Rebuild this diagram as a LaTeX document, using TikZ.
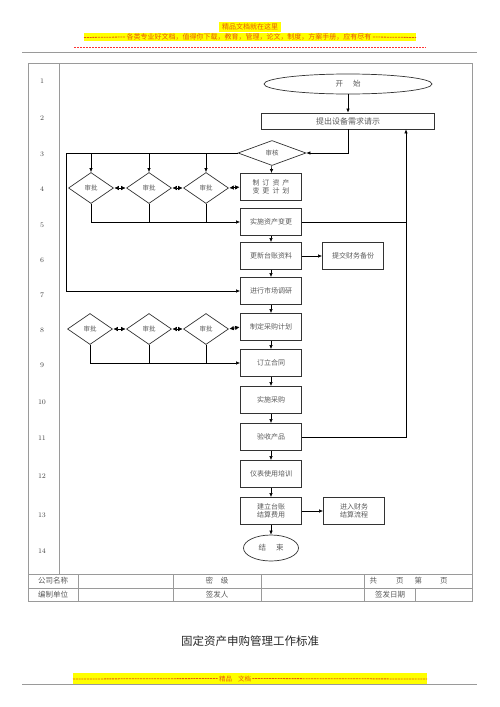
\documentclass[tikz,border=0pt]{standalone}
\usepackage{fontspec}
\usetikzlibrary{shapes.geometric,arrows.meta}
\newfontfamily\cjk{Noto Sans CJK SC}

\definecolor{framegray}{HTML}{9A9A9A}
\definecolor{txtgray}{HTML}{5A5A5A}
\definecolor{hiyellow}{HTML}{FFFF00}
\definecolor{hiorange}{HTML}{E8590C}

\tikzset{every picture/.style={line width=0.6pt}}
\tikzset{
  stepbox/.style={draw=black!80,line width=0.8pt,minimum width=61pt,minimum height=27pt,inner sep=1pt,
    font=\cjk\fontsize{7}{8.5}\selectfont,text=txtgray,align=center},
  approve/.style={diamond,draw=black!80,line width=0.7pt,minimum width=45pt,minimum height=31pt,inner sep=0pt,
    font=\cjk\fontsize{6.5}{7}\selectfont,text=txtgray},
  term/.style={ellipse,draw=black!80,line width=0.7pt,inner sep=0pt,font=\cjk\fontsize{7.5}{8}\selectfont,text=txtgray},
  flow/.style={-{Latex[length=4pt,width=3.5pt]},black},
  dbl/.style={{Latex[length=4.5pt,width=4.5pt]}-{Latex[length=4.5pt,width=4.5pt]},black,shorten <=0.5pt,shorten >=0.5pt},
  rownum/.style={font=\fontsize{7}{8}\selectfont,text=black!75},
  cell/.style={font=\cjk\fontsize{7.5}{8}\selectfont,text=txtgray},
}

\begin{document}
\begin{tikzpicture}[x=1pt,y=-1pt]
		\useasboundingbox (0,0) rectangle (500,707);
		%\draw [help lines] (0,0) grid (500,707);

		% page header
		\fill[hiyellow] (219,22) rectangle (281,32);
		\node[font=\cjk\fontsize{7}{8}\selectfont,text=hiorange] (hdone) at (250,27) {精品文档就在这里};
		\fill[hiyellow] (84,33) rectangle (416,41);
		\node[font=\cjk\fontsize{7}{8}\selectfont,text=hiorange,inner sep=1pt] (hdtwo) at (249,37) {各类专业好文档，值得你下载，教育，管理，论文，制度，方案手册，应有尽有};
		\draw[hiorange,line width=0.8pt,dash pattern=on 2pt off 0.8pt] (84,37.5) -- (hdtwo.west);
		\draw[hiorange,line width=0.8pt,dash pattern=on 2pt off 0.8pt] (hdtwo.east) -- (416,37.5);
		\draw[red!80,line width=0.4pt,dash pattern=on 2pt off 1pt] (74,47) -- (426,47);
		\draw[framegray,line width=1pt] (22,52) -- (477,52);

		% frame
		\draw[framegray,line width=0.8pt] (28,63) rectangle (472,574);
		\draw[framegray,line width=0.8pt] (59,63) -- (59,574);
		\foreach \n/\y in {1/81,2/118,3/154,4/189,5/225,6/260,7/295,8/330,9/365,10/402,11/438,12/476,13/515,14/551}
			\node[rownum] (r\n) at (42,\y) {\n};

		% flow
		\node[term,minimum width=168pt,minimum height=20pt] (start) at (348,84) {开\hspace{10pt}始};
		\node[stepbox,minimum width=173pt,minimum height=16pt,font=\cjk\fontsize{8}{9}\selectfont] (req) at (348,121) {提出设备需求请示};
		\node[approve,minimum width=68pt,minimum height=25pt] (audit) at (272,153) {审核};
		\node[stepbox] (plan) at (271,187) {制\hspace{3pt}订\hspace{3pt}资\hspace{3pt}产\\变\hspace{3pt}更\hspace{3pt}计\hspace{3pt}划};
		\node[approve] (ap1) at (91,188) {审批};
		\node[approve] (ap2) at (149,188) {审批};
		\node[approve] (ap3) at (206,188) {审批};
		\node[stepbox] (impl) at (271,222) {实施资产变更};
		\node[stepbox] (upd) at (271,256) {更新台账资料};
		\node[stepbox] (backup) at (353,256) {提交财务备份};
		\node[stepbox] (survey) at (271,291) {进行市场调研};
		\node[stepbox] (purplan) at (271,327) {制定采购计划};
		\node[approve] (bp1) at (90,329) {审批};
		\node[approve] (bp2) at (149,329) {审批};
		\node[approve] (bp3) at (206,329) {审批};
		\node[stepbox] (contract) at (271,363) {订立合同};
		\node[stepbox] (buy) at (271,400) {实施采购};
		\node[stepbox] (accept) at (271,437) {验收产品};
		\node[stepbox] (train) at (271,474) {仪表使用培训};
		\node[stepbox] (ledger) at (271,511) {建立台账\\结算费用};
		\node[stepbox] (finproc) at (354,511) {进入财务\\结算流程};
		\node[term,minimum width=55pt,minimum height=26pt] (finish) at (271,548) {结\hspace{10pt}束};

		\coordinate (leftbus) at (66,153);
		\coordinate (backbus) at (406,437);

		\draw[flow] (start) -- (req);
		\draw[flow] (req.south) |- (audit.east);
		\draw[flow] (audit) -- (plan);
		\draw[flow] (audit.west) -- (leftbus) |- (survey.west);
		\foreach \d in {ap1,ap2,ap3}
			\draw[flow] (\d |- audit) -- (\d.north);
		\draw[dbl] (ap1.east) -- (ap2.west);
		\draw[dbl] (ap2.east) -- (ap3.west);
		\draw[dbl] (ap3.east) -- (plan.west);
		\draw[flow] (ap1.south) |- (impl.west);
		\draw (ap2.south) -- (ap2.south |- impl.west);
		\draw (ap3.south) -- (ap3.south |- impl.west);
		\draw (impl.east) -- (backbus |- impl.east);
		\draw[flow] (impl) -- (upd);
		\draw[flow] (upd) -- (backup);
		\draw[flow] (upd) -- (survey);
		\draw[flow] (survey) -- (purplan);
		\draw[dbl] (bp1.east) -- (bp2.west);
		\draw[dbl] (bp2.east) -- (bp3.west);
		\draw[dbl] (bp3.east) -- (purplan.west);
		\draw[flow] (bp1.south) |- (contract.west);
		\draw (bp2.south) -- (bp2.south |- contract.west);
		\draw (bp3.south) -- (bp3.south |- contract.west);
		\draw[flow] (purplan) -- (contract);
		\draw[flow] (contract) -- (buy);
		\draw[flow] (buy) -- (accept);
		\draw[flow] (accept) -- (train);
		\draw[flow] (train) -- (ledger);
		\draw[flow] (ledger) -- (finproc);
		\draw[flow] (ledger) -- (finish);
		\draw[flow] (accept.east) -- (backbus) -- (backbus |- req.south);

		% table
		\draw[framegray,line width=0.8pt] (28,574) rectangle (472,601);
		\draw[framegray,line width=0.8pt] (28,588) -- (472,588);
		\foreach \x in {78,173,261,364}
			\draw[framegray,line width=0.8pt] (\x,574) -- (\x,601);
		\draw[framegray,line width=0.8pt] (415,588) -- (415,601);
		\node[cell] (company) at (53,581) {公司名称};
		\node[cell] (secret) at (217,581) {密\hspace{8pt}级};
		\node[cell,anchor=west] (pages) at (366,581) {共\hspace{19pt}页\hspace{11pt}第\hspace{18pt}页};
		\node[cell] (unit) at (53,595) {编制单位};
		\node[cell] (issuer) at (217,595) {签发人};
		\node[cell] (date) at (390,595) {签发日期};

		% title and page footer
		\node[font=\cjk\fontsize{11.5}{12}\selectfont,text=black!85] (title) at (250,641) {固定资产申购管理工作标准};
		\fill[hiyellow] (73,673) rectangle (427,684);
		\node[font=\cjk\fontsize{6.5}{7}\selectfont,text=hiorange,inner sep=1pt] (ftr) at (235,678.5) {精品\hspace{6pt}文档};
		\draw[hiorange,line width=0.8pt,dash pattern=on 2pt off 0.8pt] (73,679) -- (ftr.west);
		\draw[hiorange,line width=0.8pt,dash pattern=on 2pt off 0.8pt] (ftr.east) -- (427,679);
		\draw[framegray,line width=1pt] (22,684) -- (477,684);
	\end{tikzpicture}
\end{document}
